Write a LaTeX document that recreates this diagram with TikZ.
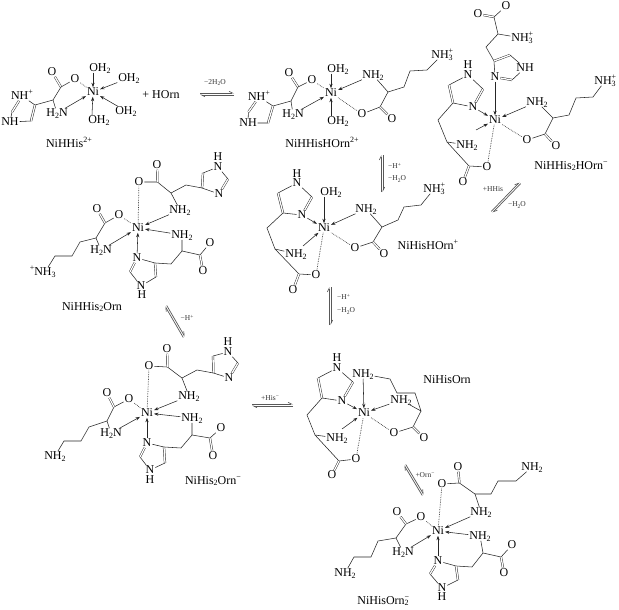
\documentclass[tikz,border=0pt]{standalone}
\usepackage{fontspec}
\setmainfont{Liberation Serif}
\usetikzlibrary{arrows.meta,calc}
\newcommand{\dn}[1]{\raisebox{-0.35ex}{\fontsize{8}{8}\selectfont #1}}
\newcommand{\upp}[1]{\raisebox{0.9ex}{\fontsize{8}{8}\selectfont #1}}
\newcommand{\sdn}[1]{\raisebox{-0.3ex}{\fontsize{5.5}{5.5}\selectfont #1}}
\newcommand{\supp}[1]{\raisebox{0.8ex}{\fontsize{5.5}{5.5}\selectfont #1}}
\newcommand{\OHH}{OH\dn{2}}
\newcommand{\NHH}{NH\dn{2}}
\newcommand{\HHN}{H\dn{2}N}
\newcommand{\NHHH}{NH\rlap{\upp{+}}\dn{3}}
\newcommand{\eqm}[2]{\draw[hp] ($(#1)!0.9pt!90:(#2)$) -- ($(#2)!0.9pt!-90:(#1)$); \draw[hp] ($(#2)!0.9pt!90:(#1)$) -- ($(#1)!0.9pt!-90:(#2)$);}
\newcommand{\pts}[1]{\foreach \nm/\xx/\yy in {#1} \coordinate (\nm) at (\xx,\yy);}
\newcommand{\ats}[1]{\foreach \nm/\xx/\yy/\lab in {#1} \node[atom] (\nm) at (\xx,\yy) {\lab};}
\tikzset{
  atom/.style={inner sep=1pt,outer sep=0pt,font=\fontsize{12}{12}\selectfont,text height=7.5pt,text depth=0pt},
  capt/.style={inner sep=0pt,font=\fontsize{12}{12}\selectfont},
  small/.style={inner sep=0pt,font=\fontsize{7.5}{7.5}\selectfont,text=black!80},
  bd/.style={line width=.55pt,black!85},
  dbl/.style={line width=.45pt,black!85,double,double distance=1.3pt},
  arr/.style={line width=.55pt,black!85,-{Stealth[length=4.5pt,width=3.2pt]}},
  dt/.style={line width=.7pt,black!75,densely dotted},
  hp/.style={line width=.7pt,black!65,-{Straight Barb[left,length=3.5pt,width=3.5pt]}}
}
\begin{document}
\begin{tikzpicture}[x=1pt,y=-1pt]
\useasboundingbox (0,0) rectangle (619,610);
% ---------- NiHHis 2+
\ats{aO1/52/72/O,aO2/75/79/O,aW1/100/68/\OHH,aW2/129/78/\OHH,aNi/93/92/Ni,aW3/126/111/\OHH,aW4/99/120/\OHH,aN/57/113/\HHN,aNa/22/96/NH\upp{+},aNb/10/122/NH}
\pts{ac/61/87,aa/53/100,a4/35/105,a5/31/121,a2/12/112}
\draw[dbl] (ac) -- (aO1);
\draw[bd] (aO2) -- (ac) -- (aa) -- (a4) -- (aNa);
\draw[bd] (aa) -- (aN);
\draw[dbl] (a4) -- (a5);
\draw[bd] (a5) -- (aNb) -- (a2);
\draw[dbl] (a2) -- (aNa);
\draw[dt] (aO2) -- (aNi);
\draw[arr] ([xshift=-7pt]aW1.south) -- (aNi);
\draw[arr] ([xshift=-7pt]aW4.north) -- (aNi);
\draw[arr] (aW2) -- (aNi);
\draw[arr] (aW3) -- (aNi);
\draw[arr] (aN) -- (aNi);
\node[capt] (aL) at (69,142) {NiHHis\upp{2+}};
\node[capt] (plus) at (161,95) {+ HOrn};
\pts{e1a/200/94,e1b/234/94}
\eqm{e1a}{e1b}
\node[small] (e1l) at (215,83) {−2H\sdn{2}O};
% ---------- NiHHisHOrn 2+
\ats{bO1/289/73/O,bO2/312/80/O,bNi/331/93/Ni,bW1/338/69/\OHH,bW2/338/121/\OHH,bN1/373/75/\NHH,bO3/362/114/O,bO4/392/119/O,bN2/293/114/\HHN,bNa/259/97/NH\upp{+},bNb/248/123/NH,bN3/442/55/\NHHH}
\pts{bc/298/87,ba/291/101,b4/273/106,b5/268/123,b2/248.4/112,bc2/380/107,bA/388/92,bp/404/87,bq/410/71,br/427/70}
\draw[dbl] (bc) -- (bO1);
\draw[bd] (bO2) -- (bc) -- (ba) -- (b4) -- (bNa);
\draw[bd] (ba) -- (bN2);
\draw[dbl] (b4) -- (b5);
\draw[bd] (b5) -- (bNb) -- (b2);
\draw[dbl] (b2) -- (bNa);
\draw[dt] (bO2) -- (bNi);
\draw[dt] (bO3) -- (bNi);
\draw[arr] ([xshift=-7pt]bW1.south) -- (bNi);
\draw[arr] ([xshift=-7pt]bW2.north) -- (bNi);
\draw[arr] (bN1) -- (bNi);
\draw[arr] (bN2) -- (bNi);
\draw[bd] (bO3) -- (bc2) -- (bA) -- (bN1);
\draw[dbl] (bc2) -- (bO4);
\draw[bd] (bA) -- (bp) -- (bq) -- (br) -- (bN3);
\node[capt] (bL) at (322,142) {NiHHisHOrn\upp{2+}};
\pts{e2a/382/155,e2b/382/192}
\eqm{e2a}{e2b}
\node[small,anchor=west] (e2l) at (388,166) {−H\supp{+}};
\node[small,anchor=west] (e2m) at (388,179) {−H\sdn{2}O};
% ---------- NiHHis2HOrn -
\ats{cO1/506/6/O,cO2/478/14/O,cN1/522/38/\NHHH,cN2/525/68/NH,cN3/495/77/N,cNi/495/120/Ni,cN4/537/102/\NHH,cN5/605/81/\NHHH,cO3/527/140/O,cO4/556/146/O,cH/468/65/H,cN6/468/75/N,cN7/473/107/N,cN8/467/145/\NHH,cO5/487/167/O,cO6/463/182/O}
\pts{cc/494/17,ca/498/34,cb/486/47,c4/494/61,c5/510/55,c2/512/80,cA/553/118,cp/569/115,cq/576/98,cr/593/97,cC/545/134,d2/483/89,d4/453/103,d5/449/85,db/438/120,da/447/142,dc/469/166,ck/476/130}
\draw[dbl] (cc) -- (cO2);
\draw[bd] (cO1) -- (cc) -- (ca) -- (cN1);
\draw[bd] (ca) -- (cb) -- (c4) -- (cN3);
\draw[dbl] (c4) -- (c5);
\draw[bd] (c5) -- (cN2) -- (c2);
\draw[dbl] (c2) -- (cN3);
\draw[arr] (cN3) -- (cNi);
\draw[arr] (cN4) -- (cNi);
\draw[bd] (cN4) -- (cA) -- (cp) -- (cq) -- (cr) -- (cN5);
\draw[bd] (cA) -- (cC) -- (cO3);
\draw[dbl] (cC) -- (cO4);
\draw[dt] (cO3) -- (cNi);
\draw[bd] (cN6) -- (d5);
\draw[dbl] (d5) -- (d4);
\draw[bd] (d4) -- (cN7);
\draw[dbl] (cN7) -- (d2);
\draw[bd] (d2) -- (cN6);
\draw[arr] (cN7) -- (cNi);
\draw[bd] (d4) -- (db) -- (da) -- (cN8);
\draw[bd] (da) -- (dc) -- (cO5);
\draw[dbl] (dc) -- (cO6);
\draw[dt] (cO5) -- (cNi);
\draw[arr] (ck) -- (cNi);
\node[capt] (cL) at (571,166) {NiHHis\dn{2}HOrn\upp{−}};
\pts{e3a/520/183,e3b/492/212}
\eqm{e3a}{e3b}
\node[small] (e3l) at (493,189) {+HHis};
\node[small] (e3m) at (517,205) {−H\sdn{2}O};
% ---------- NiHisHOrn +
\ats{fH/297/174/H,fN1/297/183/N,fN2/302/215/N,fN3/296/254/\NHH,fO1/316/275/O,fO2/293/290/O,fNi/324/228/Ni,fW/331/192/\OHH,fN4/366/209/\NHH,fN5/434/189/\NHHH,fO3/355/248/O,fO4/384/254/O}
\pts{f2/312/197,f4/283/213,f5/278/193,fb/267/228,fa/275/249,fc/299/274,fA/382/227,fp/398/220,fq/404/207,fr/421/205,fC/373/242,fk/303/246}
\draw[bd] (fN1) -- (f5);
\draw[dbl] (f5) -- (f4);
\draw[bd] (f4) -- (fN2);
\draw[dbl] (fN2) -- (f2);
\draw[bd] (f2) -- (fN1);
\draw[arr] (fN2) -- (fNi);
\draw[bd] (f4) -- (fb) -- (fa) -- (fN3);
\draw[bd] (fa) -- (fc) -- (fO1);
\draw[dbl] (fc) -- (fO2);
\draw[dt] (fO1) -- (fNi);
\draw[arr] ([xshift=-7pt]fW.south) -- (fNi);
\draw[arr] (fN4) -- (fNi);
\draw[arr] (fk) -- (fNi);
\draw[bd] (fN4) -- (fA) -- (fp) -- (fq) -- (fr) -- (fN5);
\draw[bd] (fA) -- (fC) -- (fO3);
\draw[dbl] (fC) -- (fO4);
\draw[dt] (fO3) -- (fNi);
\node[capt] (fL) at (428,245) {NiHisHOrn\upp{+}};
\pts{e4a/330/287,e4b/330/325}
\eqm{e4a}{e4b}
\node[small,anchor=west] (e4l) at (337,297) {−H\supp{+}};
\node[small,anchor=west] (e4m) at (337,311) {−H\sdn{2}O};
% ---------- NiHHis2Orn
\ats{gH/218/157/H,gN1/218/167/N,gN2/219/194/N,gO1/157/165/O,gO2/139/182/O,gN3/180/210/\NHH,gNi/138/228/Ni,gO3/119/215/O,gO4/97/209/O,gN4/101/250/\HHN,gN5/45/272/\llap{\upp{+}}NH\dn{3},gN6/182/235/\NHH,gO5/210/243/O,gO6/203/271/O,gN7/137/258/N,gN8/141/286/N,gH2/142/295/H}
\pts{g2/228/179,g4/202/188,g5/203/173,gb/186/185,ga/171/193,gc/157.4/182,gC/105/223,gA/96/238,gp/80/242,gq/72/256,gr/55/256,hA/182/251,hC/200/255,hb/171/264,h4/155/263,h5/156/277,h2/130/272}
\draw[bd] (gN1) -- (g5);
\draw[dbl] (g5) -- (g4);
\draw[bd] (g4) -- (gN2);
\draw[dbl] (gN2) -- (g2);
\draw[bd] (g2) -- (gN1);
\draw[bd] (g4) -- (gb) -- (ga) -- (gc) -- (gO2);
\draw[dbl] (gc) -- (gO1);
\draw[bd] (ga) -- (gN3);
\draw[arr] (gN3) -- (gNi);
\draw[dt] (gO2) -- (gNi);
\draw[dt] (gO3) -- (gNi);
\draw[bd] (gO3) -- (gC) -- (gA) -- (gN4);
\draw[dbl] (gC) -- (gO4);
\draw[arr] (gN4) -- (gNi);
\draw[bd] (gA) -- (gp) -- (gq) -- (gr) -- (gN5);
\draw[arr] (gN6) -- (gNi);
\draw[bd] (gN6) -- (hA) -- (hC) -- (gO5);
\draw[dbl] (hC) -- (gO6);
\draw[bd] (hA) -- (hb) -- (h4) -- (gN7);
\draw[dbl] (h4) -- (h5);
\draw[bd] (h5) -- (gN8) -- (h2);
\draw[dbl] (h2) -- (gN7);
\draw[arr] (gN7) -- (gNi);
\node[capt] (gL) at (92,307) {NiHHis\dn{2}Orn};
\pts{e5a/166/306,e5c/184/337}
\eqm{e5a}{e5c}
\node[small] (e5l) at (187,318) {−H\supp{+}};
% ---------- NiHis2Orn -
\ats{iH/228/342/H,iN1/228/352/N,iN2/229/378/N,iO1/167/349/O,iO2/149/366/O,iN3/189/396/\NHH,iNi/147/413/Ni,iO3/129/399/O,iO4/107/393/O,iN4/111/433/\HHN,iN5/55/456/\NHH,iN6/192/418/\NHH,iO5/221/428/O,iO6/213/456/O,iN7/147/443/N,iN8/150/470/N,iH2/150/480/H}
\pts{i2/238/363,i4/213.4/373,i5/213/356,ib/197/370,ia/182/378,ic/167.4/367,iC/114/407,iA/107/421,ip/89/427,iq/81/441,ir/64/441,jA/192/435,jC/210/438,jb/181/448,j4/164/447,j5/165/463,j2/140/457}
\draw[bd] (iN1) -- (i5);
\draw[dbl] (i5) -- (i4);
\draw[bd] (i4) -- (iN2);
\draw[dbl] (iN2) -- (i2);
\draw[bd] (i2) -- (iN1);
\draw[bd] (i4) -- (ib) -- (ia) -- (ic) -- (iO2);
\draw[dbl] (ic) -- (iO1);
\draw[bd] (ia) -- (iN3);
\draw[arr] (iN3) -- (iNi);
\draw[dt] (iO2) -- (iNi);
\draw[dt] (iO3) -- (iNi);
\draw[bd] (iO3) -- (iC) -- (iA) -- (iN4);
\draw[dbl] (iC) -- (iO4);
\draw[arr] (iN4) -- (iNi);
\draw[bd] (iA) -- (ip) -- (iq) -- (ir) -- (iN5);
\draw[arr] (iN6) -- (iNi);
\draw[bd] (iN6) -- (jA) -- (jC) -- (iO5);
\draw[dbl] (jC) -- (iO6);
\draw[bd] (jA) -- (jb) -- (j4) -- (iN7);
\draw[dbl] (j4) -- (j5);
\draw[bd] (j5) -- (iN8) -- (j2);
\draw[dbl] (j2) -- (iN7);
\draw[arr] (iN7) -- (iNi);
\node[capt] (iL) at (213,481) {NiHis\dn{2}Orn\upp{−}};
\pts{e6a/293/405,e6b/252/405}
\eqm{e6a}{e6b}
\node[small] (e6l) at (270,398) {+His\supp{−}};
% ---------- NiHisOrn
\ats{kH/337/358/H,kN1/337/368/N,kN2/342/401/N,kN3/337/438/\NHH,kO1/356/459/O,kO2/332/475/O,kNi/364/413/Ni,kN4/363/374/\NHH,kN5/401/400/\NHH,kO3/394/433/O,kO4/424/438/O}
\pts{k2/353/382,k4/322/398,k5/318/378,kb/307/415,ka/315/435,kc/339/461,kp/390/379,kq/397/393,kr/415/393,kA/421/411,kC/413/427,kk/342/429}
\draw[bd] (kN1) -- (k5);
\draw[dbl] (k5) -- (k4);
\draw[bd] (k4) -- (kN2);
\draw[dbl] (kN2) -- (k2);
\draw[bd] (k2) -- (kN1);
\draw[arr] (kN2) -- (kNi);
\draw[bd] (k4) -- (kb) -- (ka) -- (kN3);
\draw[bd] (ka) -- (kc) -- (kO1);
\draw[dbl] (kc) -- (kO2);
\draw[dt] (kO1) -- (kNi);
\draw[arr] (kN4) -- (kNi);
\draw[arr] (kN5) -- (kNi);
\draw[arr] (kk) -- (kNi);
\draw[bd] (kN4) -- (kp) -- (kq) -- (kr) -- (kA) -- (kN5);
\draw[bd] (kA) -- (kC) -- (kO3);
\draw[dbl] (kC) -- (kO4);
\draw[dt] (kO3) -- (kNi);
\node[capt] (kL) at (447,380) {NiHisOrn};
\pts{e7a/405/465,e7b/423/495}
\eqm{e7a}{e7b}
\node[small] (e7l) at (425,475) {+Orn\supp{−}};
% ---------- NiHisOrn2 -
\ats{mO1/458/467/O,mO2/442/484/O,mN1/532/467/\NHH,mN2/481/512/\NHH,mNi/438/531/Ni,mO3/421/517/O,mO4/397/512/O,mN3/403/552/\HHN,mN4/345/573/\NHH,mN5/480/536/\NHH,mO5/512/545/O,mO6/504/573/O,mN6/438/561/N,mN7/442/588/N,mH/442/597/H}
\pts{mc/459.4/483,ma/475/494,mb/491/494,mp/498/481,mq/516/481,mC/406/524,mA/396/538,mr/378/541,ms/371/557,mt/354/557,nA/483/553,nC/501/557,nb/472/567,n4/456/566,n5/458/580,n2/430/574}
\draw[dbl] (mc) -- (mO1);
\draw[bd] (mO2) -- (mc) -- (ma) -- (mb) -- (mp) -- (mq) -- (mN1);
\draw[bd] (ma) -- (mN2);
\draw[arr] (mN2) -- (mNi);
\draw[dt] (mO2) -- (mNi);
\draw[dt] (mO3) -- (mNi);
\draw[bd] (mO3) -- (mC) -- (mA) -- (mN3);
\draw[dbl] (mC) -- (mO4);
\draw[arr] (mN3) -- (mNi);
\draw[bd] (mA) -- (mr) -- (ms) -- (mt) -- (mN4);
\draw[arr] (mN5) -- (mNi);
\draw[bd] (mN5) -- (nA) -- (nC) -- (mO5);
\draw[dbl] (nC) -- (mO6);
\draw[bd] (nA) -- (nb) -- (n4) -- (mN6);
\draw[dbl] (n4) -- (n5);
\draw[bd] (n5) -- (mN7) -- (n2);
\draw[dbl] (n2) -- (mN6);
\draw[arr] (mN6) -- (mNi);
\node[capt] (mL) at (383,601) {NiHisOrn\rlap{\upp{−}}\dn{2}};
\end{tikzpicture}
\end{document}
